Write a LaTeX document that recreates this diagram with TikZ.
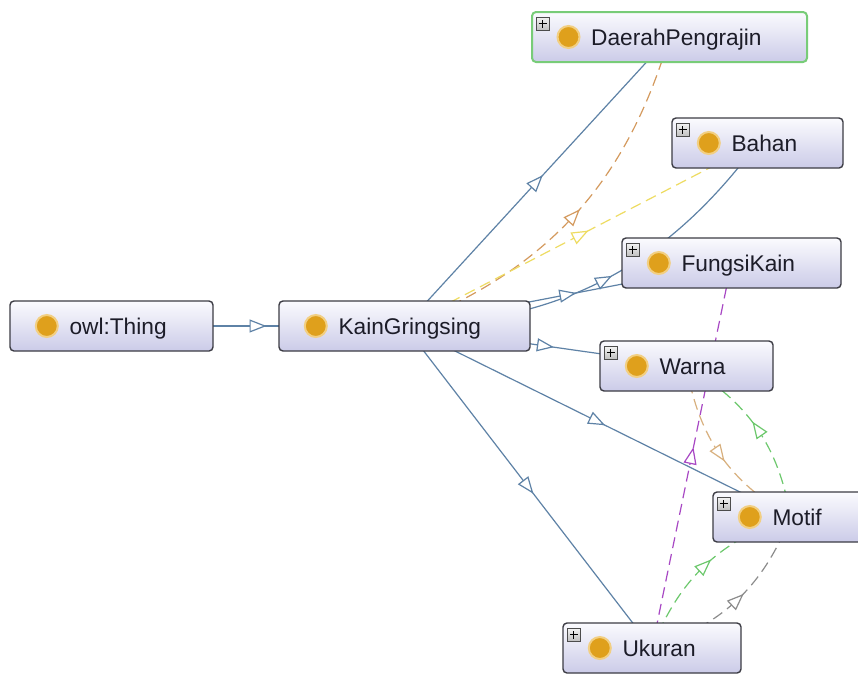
\documentclass[tikz,border=0pt]{standalone}
\usepackage{fontspec}
\setmainfont{Liberation Sans}
\usetikzlibrary{arrows.meta,decorations.markings}
\pgfdeclarelayer{canvas}
\pgfdeclarelayer{background}
\pgfsetlayers{canvas,background,main}

\definecolor{boxline}{HTML}{3C3C44}
\definecolor{boxtop}{HTML}{FBFBFE}
\definecolor{boxbottom}{HTML}{CBCBE8}
\definecolor{selline}{HTML}{78CC78}
\definecolor{dotfill}{HTML}{DFA01C}
\definecolor{dotring}{HTML}{F2CF82}
\definecolor{isacol}{HTML}{5E82A6}
\definecolor{orangeedge}{HTML}{D49A5E}
\definecolor{yellowedge}{HTML}{EEDC62}
\definecolor{purpleedge}{HTML}{A848C4}
\definecolor{tanedge}{HTML}{D8B07E}
\definecolor{greenedge}{HTML}{6CC86C}
\definecolor{greyedge}{HTML}{8C8C8C}
\definecolor{labeltext}{HTML}{1C1C28}

\tikzset{
  hollowtri/.tip={Triangle[length=17pt,width=13pt,fill=white,line width=1.2pt]},
  classbox/.style={rectangle,rounded corners=4pt,draw=boxline,line width=1.4pt,
    top color=boxtop,bottom color=boxbottom,minimum height=50pt,inner sep=0pt},
  selectedbox/.style={draw=selline,line width=2pt},
  classdot/.style={circle,minimum size=22pt,inner sep=0pt,fill=dotfill,
    draw=dotring,line width=2pt},
  classlabel/.style={anchor=base west,inner sep=0pt,text=labeltext,
    font=\fontsize{22.7}{26}\selectfont},
  expander/.style={rectangle,minimum size=13pt,inner sep=0pt,draw=black!70,
    line width=0.8pt,top color=white!95!black,bottom color=white!75!black,
    path picture={
      \draw[black,line width=1.3pt]
        ([xshift=-4pt]path picture bounding box.center) --
        ([xshift=4pt]path picture bounding box.center)
        ([yshift=-4pt]path picture bounding box.center) --
        ([yshift=4pt]path picture bounding box.center);}},
  midarrow/.style={postaction={decorate},
    decoration={markings,mark=at position 0.5 with {\arrow[xshift=8.5pt]{hollowtri}}}},
  isaedge/.style={draw=isacol,line width=1.2pt,midarrow},
  propedge/.style={draw=#1,line width=1.2pt,dash pattern=on 11pt off 6pt,midarrow},
}

% one ontology class: name, centre, width, label, extra box style
\newcommand\owlclass[5]{%
  \node[classbox,minimum width=#3pt,#5] (#1) at (#2) {};
  \node[classdot] (#1-dot) at ([xshift=37.5pt]#1.west) {};
  \node[classlabel] (#1-label) at ([xshift=60pt,yshift=-8.5pt]#1.west) {#4};
}
% the small expand button in the upper left corner of a class
\newcommand\owlexpander[1]{%
  \node[expander] (#1-plus) at ([xshift=11.5pt,yshift=-12.5pt]#1.north west) {};
}

\begin{document}
\begin{tikzpicture}[x=1pt,y=-1pt]
  \begin{pgfonlayer}{canvas}
    \fill[white] (0,0) rectangle (858,675);
  \end{pgfonlayer}
  \useasboundingbox (0,0) rectangle (858,675);
  \clip (0,0) rectangle (858,675);

  % classes
  \owlclass{thing}{111.5,326}{203}{owl:Thing}{}
  \owlclass{kain}{404.5,326}{251}{KainGringsing}{}
  \owlclass{daerah}{669.5,37}{275}{DaerahPengrajin}{selectedbox}
  \owlexpander{daerah}
  \owlclass{bahan}{757.5,143}{171}{Bahan}{}
  \owlexpander{bahan}
  \owlclass{fungsi}{731.5,263}{219}{FungsiKain}{}
  \owlexpander{fungsi}
  \owlclass{warna}{686.5,366}{173}{Warna}{}
  \owlexpander{warna}
  \owlclass{motif}{790.5,517}{155}{Motif}{}
  \owlexpander{motif}
  \owlclass{ukuran}{652,648}{178}{Ukuran}{}
  \owlexpander{ukuran}

  \begin{pgfonlayer}{background}
    % subclass links
    \draw[isaedge] (thing.center) -- (kain.center);
    \draw[isaedge] (kain.center) -- (daerah.center);
    \draw[isaedge] (kain.center) to[bend right=26] (bahan.center);
    \draw[isaedge] (kain.center) -- (fungsi.center);
    \draw[isaedge] (kain.center) -- (warna.center);
    \draw[isaedge] (kain.center) -- (motif.center);
    \draw[isaedge] (kain.center) -- (ukuran.center);
    % object property links
    \draw[propedge=orangeedge] (kain.center) to[bend right=26] (daerah.center);
    \draw[propedge=yellowedge] (kain.center) -- (bahan.center);
    \draw[propedge=purpleedge] (ukuran.center) -- (fungsi.center);
    \draw[propedge=tanedge] (warna.center) to[bend right=25] (motif.center);
    \draw[propedge=greenedge] (motif.center) to[bend right=25] (warna.center);
    \draw[propedge=greenedge] (ukuran.center) to[bend left=25] (motif.center);
    \draw[propedge=greyedge] (ukuran.center) to[bend right=25] (motif.center);
  \end{pgfonlayer}
\end{tikzpicture}
\end{document}
